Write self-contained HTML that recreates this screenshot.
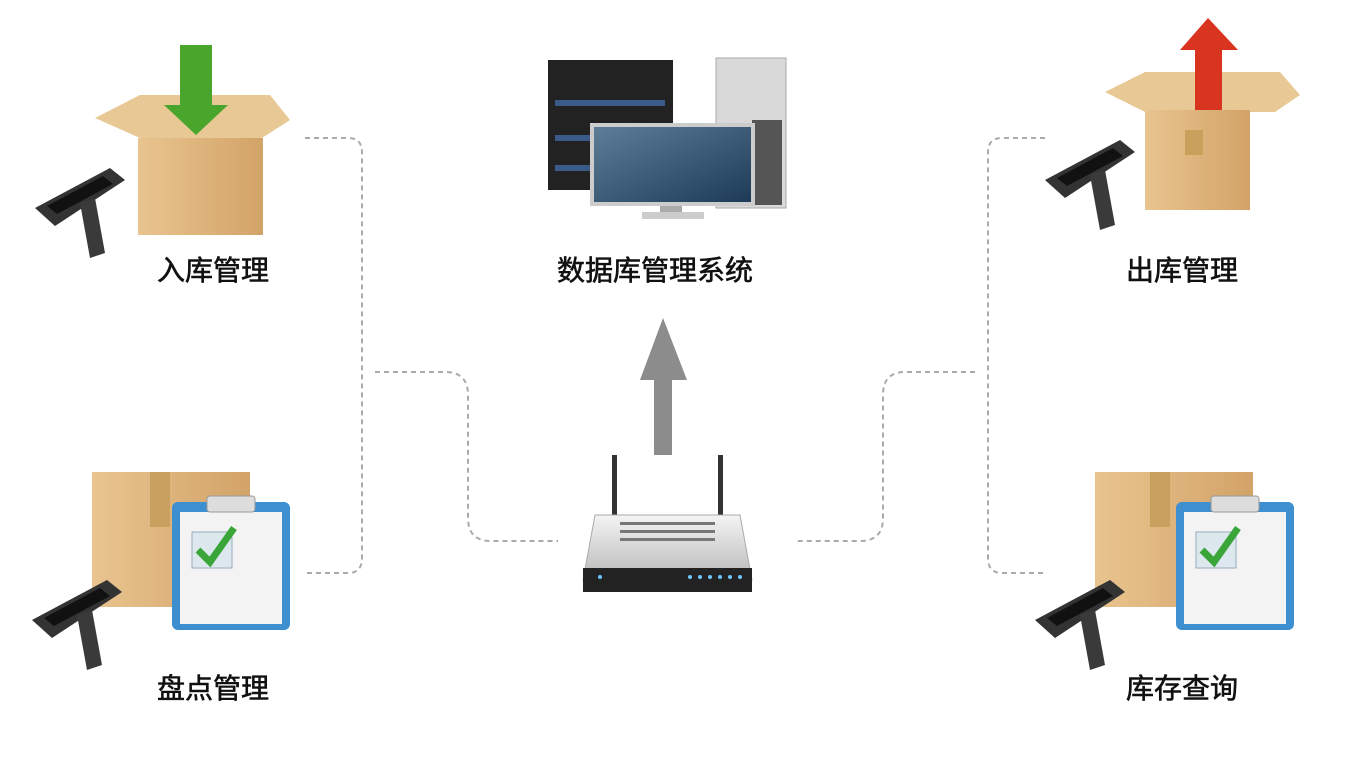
<!DOCTYPE html>
<html><head><meta charset="utf-8"><style>
html,body{margin:0;padding:0;background:#fff;width:1359px;height:770px;overflow:hidden}
svg{display:block}
text{font-family:"Liberation Sans","Noto Sans CJK SC",sans-serif;font-size:28px;font-weight:normal;fill:#111;stroke:#111;stroke-width:0.6;text-anchor:middle}
</style></head><body>
<svg width="1359" height="770" viewBox="0 0 1359 770">
<defs>
<linearGradient id="box" x1="0" x2="1"><stop offset="0" stop-color="#e9c48f"/><stop offset="1" stop-color="#d2a368"/></linearGradient>
<linearGradient id="scr" x1="0" y1="0" x2="1" y2="1"><stop offset="0" stop-color="#5d7d98"/><stop offset="1" stop-color="#1d3b56"/></linearGradient>
<linearGradient id="rt" x1="0" y1="0" x2="0" y2="1"><stop offset="0" stop-color="#f4f4f4"/><stop offset="1" stop-color="#b8b8b8"/></linearGradient>
<g id="scanner">
<path d="M0,40 L75,0 L90,12 L20,58 Z" fill="#333"/>
<path d="M12,38 L68,8 L78,16 L22,46 Z" fill="#111"/>
<path d="M45,35 L60,30 L70,85 L55,90 Z" fill="#3a3a3a"/>
</g>
<g id="clip">
<rect x="0" y="0" width="118" height="128" rx="6" fill="#3d8fd0"/>
<rect x="8" y="10" width="102" height="112" fill="#f3f3f3"/>
<rect x="35" y="-6" width="48" height="16" rx="3" fill="#ddd" stroke="#999"/>
<rect x="20" y="30" width="40" height="36" fill="#dde8ee" stroke="#9ab"/>
<path d="M26,48 L38,60 L62,26" stroke="#3aa63a" stroke-width="7" fill="none"/>
</g>
</defs>

<g fill="none" stroke="#aaa" stroke-width="2" stroke-dasharray="5,4">
<path d="M305,138 H348 Q362,138 362,152 V558 Q362,573 348,573 H305"/>
<path d="M375,372 H445 Q468,372 468,395 V518 Q468,541 491,541 H558"/>
<path d="M1045,138 H1002 Q988,138 988,152 V558 Q988,573 1002,573 H1045"/>
<path d="M975,372 H905 Q883,372 883,395 V518 Q883,541 860,541 H795"/>
</g>

<path d="M654,455 V380 H640 L663,318 L687,380 H672 V455 Z" fill="#8c8c8c"/>

<rect x="612" y="455" width="5" height="60" fill="#333"/>
<rect x="718" y="455" width="5" height="60" fill="#333"/>
<path d="M595,515 H740 L752,580 H583 Z" fill="url(#rt)" stroke="#aaa"/>
<rect x="583" y="568" width="169" height="24" fill="#222"/>
<g fill="#6cc8ff"><circle cx="600" cy="577" r="2"/><circle cx="690" cy="577" r="2"/><circle cx="700" cy="577" r="2"/><circle cx="710" cy="577" r="2"/><circle cx="720" cy="577" r="2"/><circle cx="730" cy="577" r="2"/><circle cx="740" cy="577" r="2"/></g>
<g fill="#777"><rect x="620" y="522" width="95" height="3"/><rect x="620" y="530" width="95" height="3"/><rect x="620" y="538" width="95" height="3"/></g>

<rect x="548" y="60" width="125" height="130" fill="#222"/>
<g fill="#3a5a8a"><rect x="555" y="100" width="110" height="6"/><rect x="555" y="135" width="110" height="6"/><rect x="555" y="165" width="110" height="6"/></g>
<rect x="716" y="58" width="70" height="150" fill="#d9d9d9" stroke="#aaa"/>
<rect x="752" y="120" width="30" height="85" fill="#555"/>
<rect x="590" y="123" width="165" height="83" fill="#ccc"/>
<rect x="594" y="127" width="157" height="75" fill="url(#scr)"/>
<rect x="660" y="206" width="22" height="8" fill="#aaa"/>
<rect x="642" y="212" width="62" height="7" fill="#ccc"/>

<path d="M95,118 L140,95 L270,95 L290,120 L262,138 L140,138 Z" fill="#e8c894"/>
<rect x="138" y="138" width="125" height="97" fill="url(#box)"/>
<path d="M180,45 H212 V105 H228 L196,135 L164,105 H180 Z" fill="#4aa52d"/>
<use href="#scanner" x="35" y="168"/>

<path d="M1105,92 L1145,72 L1280,72 L1300,95 L1275,112 L1145,112 Z" fill="#e8c894"/>
<rect x="1145" y="110" width="105" height="100" fill="url(#box)"/>
<rect x="1185" y="130" width="18" height="25" fill="#c9a15c"/>
<path d="M1195,110 V50 H1180 L1208,18 L1238,50 H1222 V110 Z" fill="#d9341f"/>
<use href="#scanner" x="1045" y="140"/>

<rect x="92" y="472" width="158" height="135" fill="url(#box)"/>
<rect x="150" y="472" width="20" height="55" fill="#c8a060"/>
<use href="#clip" x="172" y="502"/>
<use href="#scanner" x="32" y="580"/>

<rect x="1095" y="472" width="158" height="135" fill="url(#box)"/>
<rect x="1150" y="472" width="20" height="55" fill="#c8a060"/>
<use href="#clip" x="1176" y="502"/>
<use href="#scanner" x="1035" y="580"/>

<text x="213" y="280">入库管理</text>
<text x="655" y="280">数据库管理系统</text>
<text x="1182" y="280">出库管理</text>
<text x="213" y="698">盘点管理</text>
<text x="1182" y="698">库存查询</text>
</svg>
</body></html>
